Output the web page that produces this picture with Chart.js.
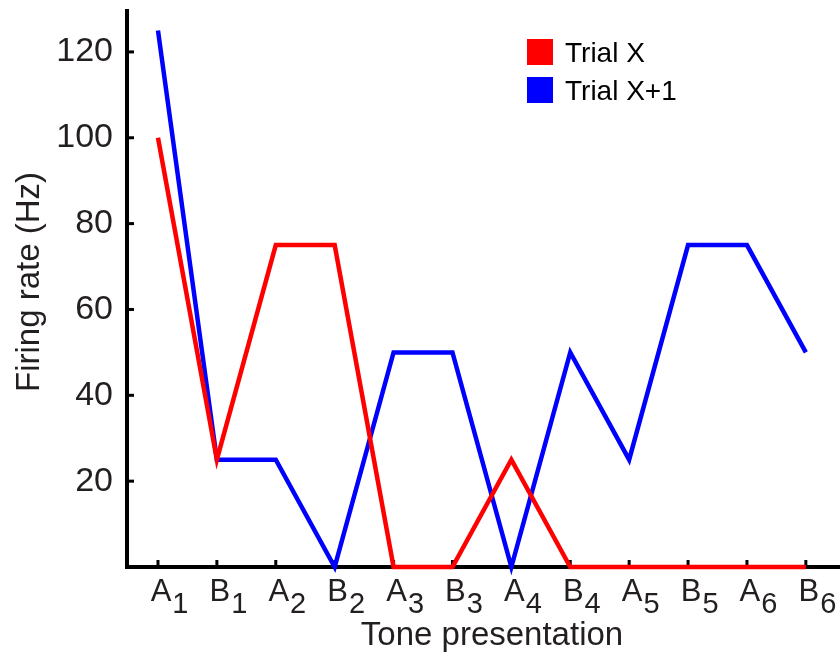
<!DOCTYPE html>
<html>
<head>
<meta charset="utf-8">
<script src="https://cdn.jsdelivr.net/npm/chart.js@4/dist/chart.umd.min.js"></script>
<style>
  html, body { margin: 0; padding: 0; background: #fff; }
  #wrap { width: 840px; height: 654px; }
</style>
</head>
<body>
<div id="wrap"><canvas id="c" width="840" height="654"></canvas></div>
<script>
// Tone presentations: letter plus subscript index
const toneLetters = ['A', 'B', 'A', 'B', 'A', 'B', 'A', 'B', 'A', 'B', 'A', 'B'];
const toneIndices = ['1', '1', '2', '2', '3', '3', '4', '4', '5', '5', '6', '6'];

// Firing rate (Hz) per tone presentation
const trialX  = [100, 25, 75, 75, 0, 0, 25, 0, 0, 0, 0, 0];
const trialX1 = [125, 25, 25, 0, 50, 50, 0, 50, 25, 75, 75, 50];

const yTickValues = [20, 40, 60, 80, 100, 120];
const seriesNames = ['Trial X', 'Trial X+1'];
const seriesColors = ['#ff0000', '#0000ff'];

const FONT = '"Liberation Sans", Arial, Helvetica, sans-serif';
const TEXT = '#231f20';

const toPoints = arr => arr.map((v, i) => ({ x: i, y: v }));

// Axis lines, inward tick marks, tone labels with subscripts, titles and legend
const decorations = {
  id: 'decorations',
  beforeDatasetsDraw(chart) {
    const { ctx, chartArea, scales: { x, y } } = chart;
    const left = chartArea.left;
    const zeroY = y.getPixelForValue(0);
    ctx.save();
    ctx.fillStyle = '#000';
    // y axis line
    ctx.fillRect(left - 2, chartArea.top, 4, zeroY + 2 - chartArea.top);
    // x axis line
    ctx.fillRect(left - 2, zeroY - 2, chartArea.right - left + 2, 4);
    // y tick marks pointing right
    yTickValues.forEach(v => {
      const py = y.getPixelForValue(v);
      ctx.fillRect(left + 2, py - 1.5, 5, 3);
    });
    // x tick marks pointing up
    toneLetters.forEach((_, i) => {
      const px = x.getPixelForValue(i);
      ctx.fillRect(px - 1.5, zeroY - 7, 3, 5);
    });
    ctx.restore();
  },
  afterDraw(chart) {
    const { ctx, scales: { x } } = chart;
    ctx.save();
    ctx.fillStyle = TEXT;
    ctx.textBaseline = 'alphabetic';

    // tone labels
    toneLetters.forEach((letter, i) => {
      const px = x.getPixelForValue(i) + 3;
      ctx.font = '31px ' + FONT;
      ctx.textAlign = 'center';
      ctx.fillText(letter, px, 601);
      const w = ctx.measureText(letter).width;
      ctx.font = '29px ' + FONT;
      ctx.textAlign = 'left';
      ctx.fillText(toneIndices[i], px + w / 2 + 1, 613);
    });

    // x axis title
    ctx.font = '33px ' + FONT;
    ctx.textAlign = 'center';
    ctx.fillText('Tone presentation', 492, 645);

    // y axis title
    ctx.save();
    ctx.translate(39, 282);
    ctx.rotate(-Math.PI / 2);
    ctx.font = '33px ' + FONT;
    ctx.textAlign = 'center';
    ctx.fillText('Firing rate (Hz)', 0, 0);
    ctx.restore();

    // legend
    ctx.font = '28px ' + FONT;
    ctx.textAlign = 'left';
    seriesNames.forEach((name, k) => {
      const top = 39 + k * 38;
      ctx.fillStyle = seriesColors[k];
      ctx.fillRect(527, top, 26, 26);
      ctx.fillStyle = '#000';
      ctx.fillText(name, 565, top + 23);
    });
    ctx.restore();
  }
};

const noPadding = s => { s.paddingTop = 0; s.paddingBottom = 0; s.paddingLeft = 0; s.paddingRight = 0; };

new Chart(document.getElementById('c'), {
  type: 'line',
  data: {
    datasets: [
      { label: seriesNames[0], data: toPoints(trialX), borderColor: seriesColors[0] },
      { label: seriesNames[1], data: toPoints(trialX1), borderColor: seriesColors[1] }
    ]
  },
  options: {
    responsive: false,
    devicePixelRatio: 1,
    animation: false,
    layout: { padding: { top: 9, right: 0, bottom: 0, left: 0 } },
    elements: {
      line: { borderWidth: 4.5, tension: 0, fill: false, borderJoinStyle: 'miter', borderCapStyle: 'butt' },
      point: { radius: 0, hoverRadius: 0 }
    },
    datasets: { line: { clip: false } },
    plugins: { legend: { display: false }, tooltip: { enabled: false } },
    scales: {
      x: {
        type: 'linear',
        min: -0.526,
        max: 11.58,
        grid: { display: false, drawTicks: false },
        border: { display: false },
        ticks: { display: false },
        afterBuildTicks: s => { s.ticks = toneLetters.map((_, i) => ({ value: i })); },
        afterFit: s => { s.height = 87; noPadding(s); }
      },
      y: {
        min: 0,
        max: 130,
        grid: { display: false, drawTicks: false },
        border: { display: false },
        ticks: {
          color: TEXT,
          padding: 14,
          font: { family: FONT, size: 34 }
        },
        afterBuildTicks: s => { s.ticks = yTickValues.map(v => ({ value: v })); },
        afterFit: s => { s.width = 127; noPadding(s); }
      }
    }
  },
  plugins: [decorations]
});
</script>
</body>
</html>
